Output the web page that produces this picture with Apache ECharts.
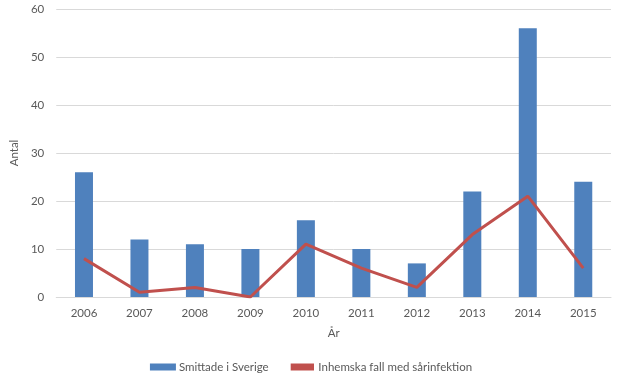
<!DOCTYPE html>
<html><head><meta charset="utf-8">
<script src="https://cdn.jsdelivr.net/npm/echarts@6/dist/echarts.min.js"></script>
<style>html,body{margin:0;padding:0;background:#fff}#c{width:622px;height:380px}</style>
</head><body><div id="c"></div>
<script>
const categories = ['2006','2007','2008','2009','2010','2011','2012','2013','2014','2015'];
const smittade = [26, 12, 11, 10, 16, 10, 7, 22, 56, 24];
const inhemska = [8, 1, 2, 0, 11, 6, 2, 13, 21, 6];
const seriesNames = ['Smittade i Sverige', 'Inhemska fall med sårinfektion'];

const txt = {color:'#595959', fontFamily:'Lato, sans-serif', fontSize:11.5};
const chart = echarts.init(document.getElementById('c'));
chart.setOption({
  animation:false,
  grid:{left:52, right:11, top:9, bottom:83, containLabel:false},
  legend:{bottom:2, left:'center', itemGap:22, itemWidth:26, itemHeight:7,
    textStyle:Object.assign({padding:[0,0,0,-2]}, txt),
    data:[{name:seriesNames[0], icon:'rect'},{name:seriesNames[1], icon:'path://M0,0 L10,0 L10,3 L0,3 Z'}]},
  xAxis:{type:'category', data:categories, name:'År', nameLocation:'middle', nameGap:30,
    nameTextStyle:Object.assign({}, txt),
    axisLine:{lineStyle:{color:'#d9d9d9'}}, axisTick:{show:false},
    axisLabel:Object.assign({margin:10}, txt)},
  yAxis:{type:'value', min:0, max:60, interval:10, name:'Antal', nameLocation:'middle', nameGap:26,
    nameTextStyle:Object.assign({}, txt),
    axisLine:{show:false}, axisTick:{show:false},
    axisLabel:Object.assign({margin:12}, txt),
    splitLine:{lineStyle:{color:'#d9d9d9'}}},
  series:[
    {name:seriesNames[0], type:'bar', data:smittade, barWidth:18, itemStyle:{color:'#4f81bd'}},
    {name:seriesNames[1], type:'line', data:inhemska, symbol:'none', lineStyle:{color:'#c0504d', width:3}, itemStyle:{color:'#c0504d'}}
  ]
});
</script></body></html>
